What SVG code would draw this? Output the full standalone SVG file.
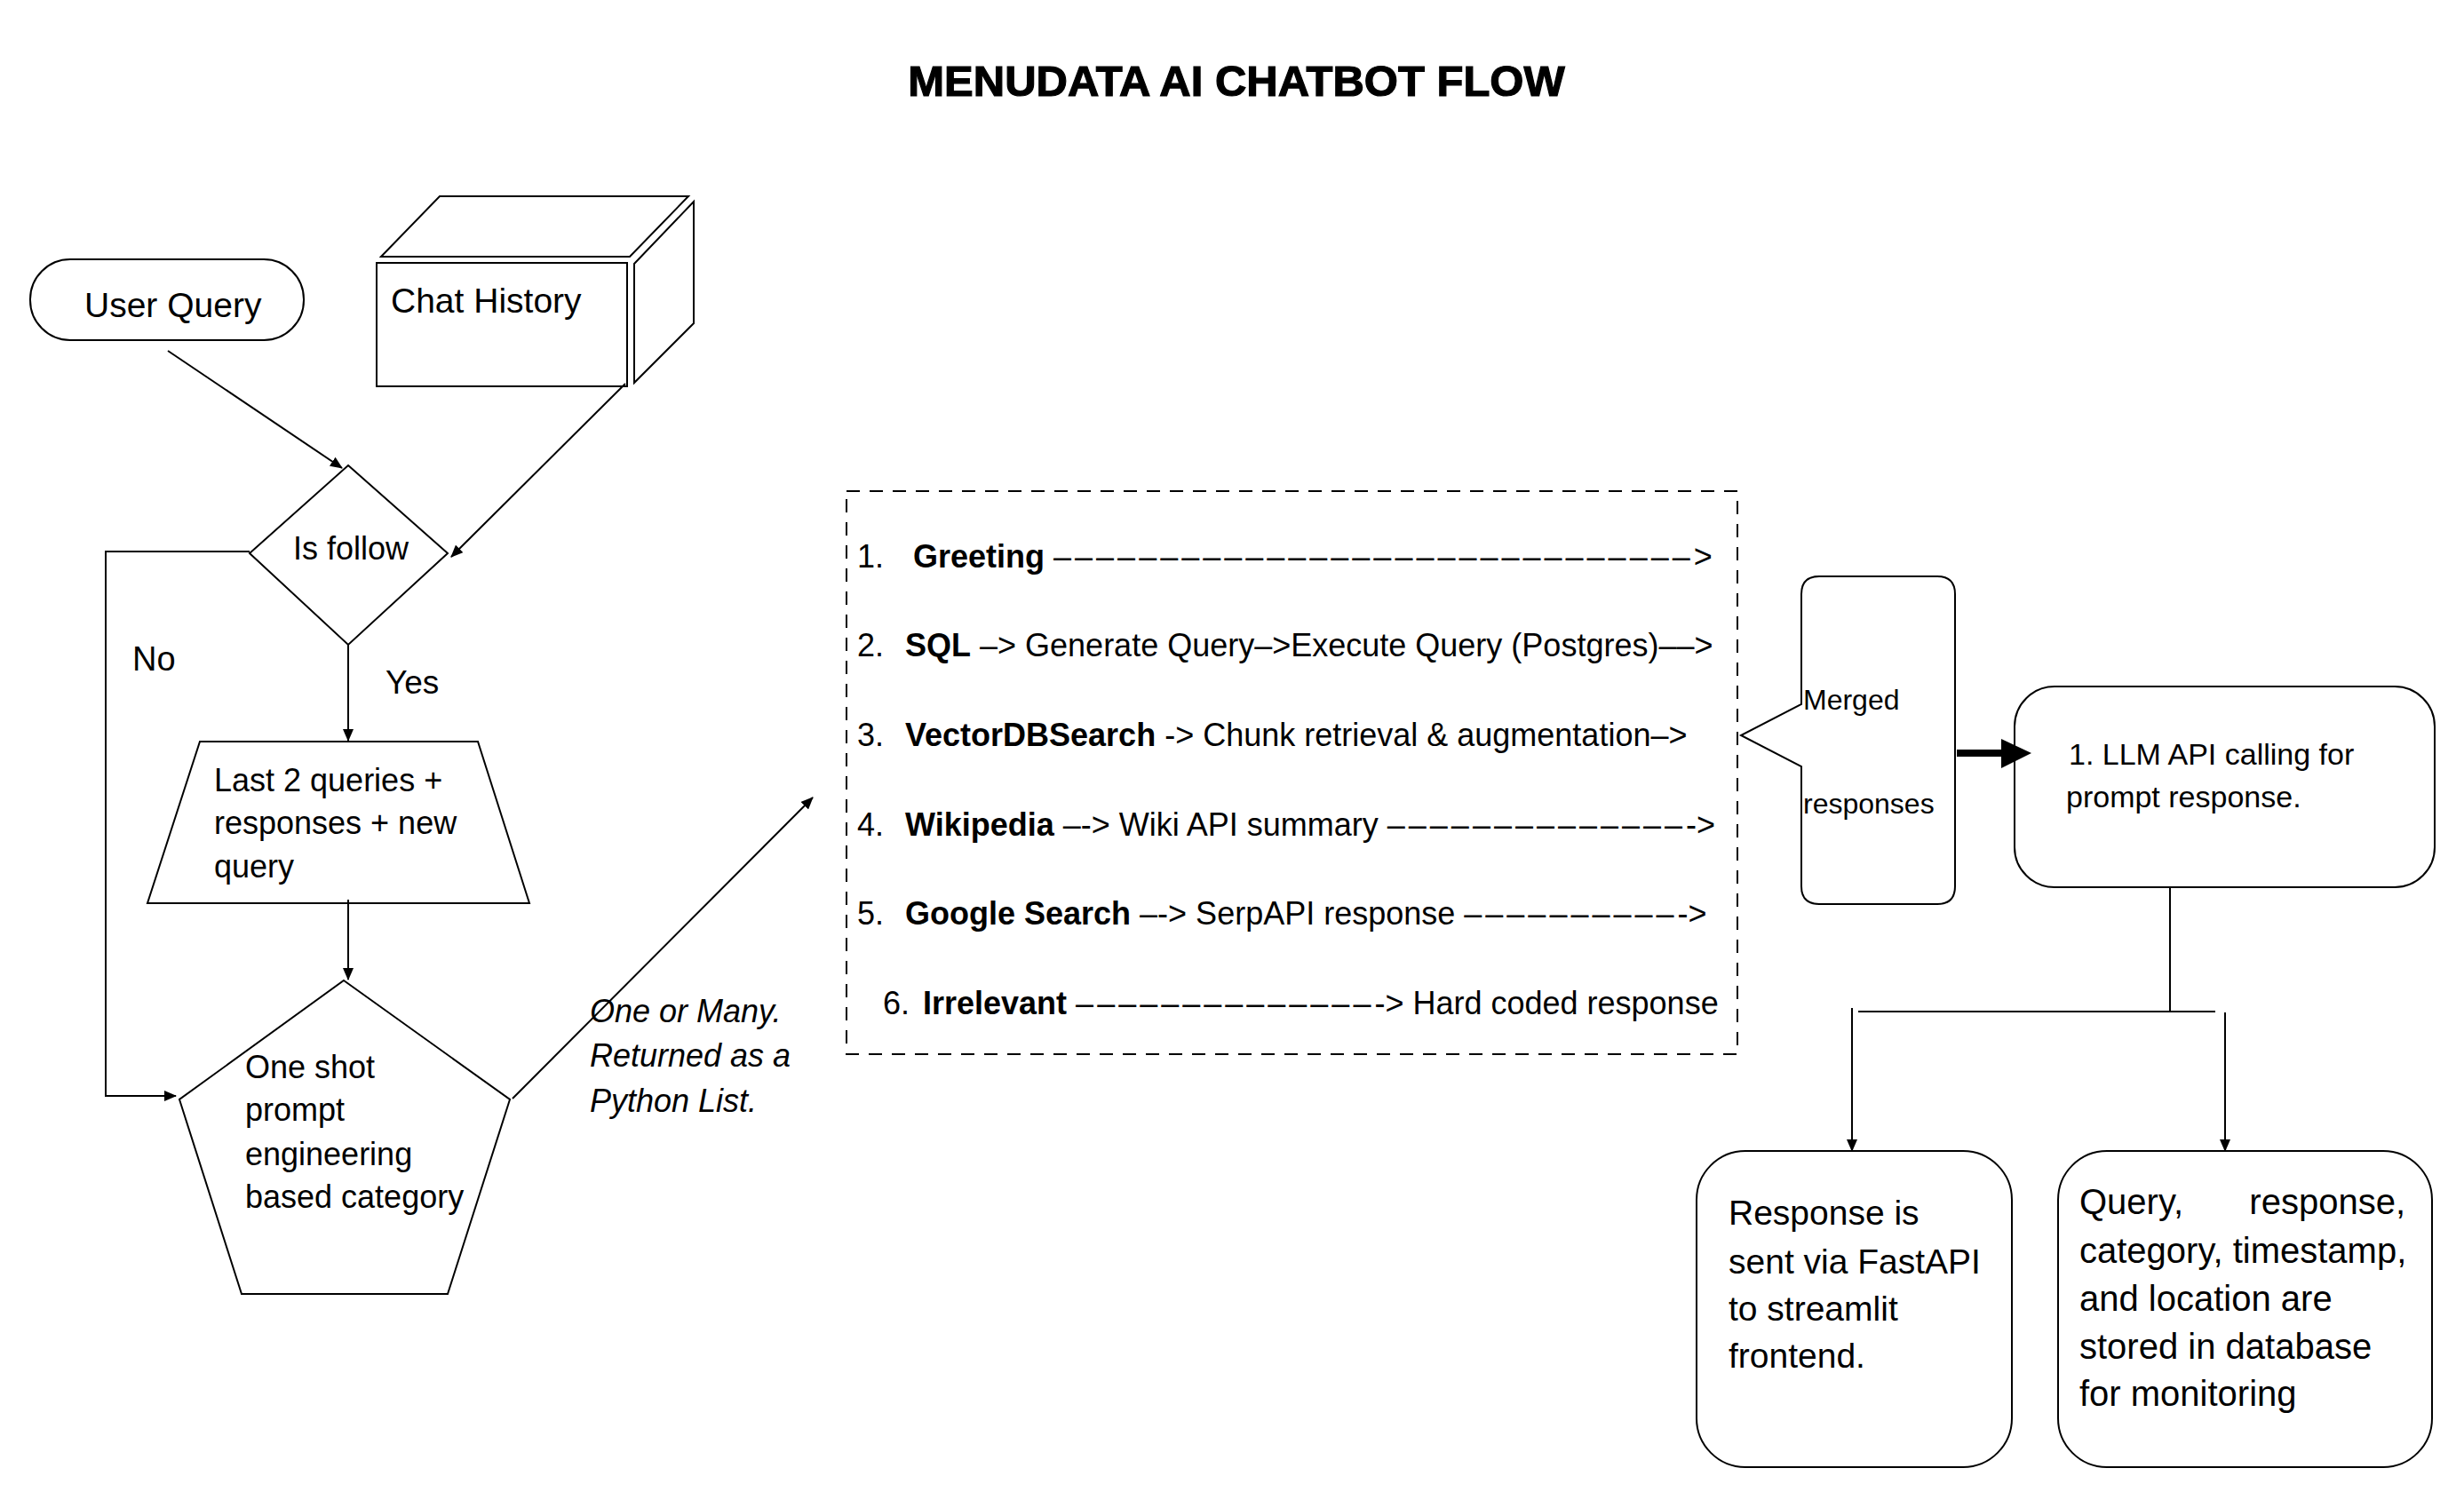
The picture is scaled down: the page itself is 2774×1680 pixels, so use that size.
<svg xmlns="http://www.w3.org/2000/svg" width="2774" height="1680" viewBox="0 0 2774 1680">
<style>
text{font-family:"Liberation Sans",Arial,sans-serif;fill:#000}
.sh{fill:#fff;stroke:#000;stroke-width:2}
.ln{fill:none;stroke:#000;stroke-width:2}
.b{font-weight:700}
.d{letter-spacing:4px}
.t36{font-size:36px}
</style>
<defs>
<marker id="ah" markerUnits="userSpaceOnUse" markerWidth="14" markerHeight="12" refX="13" refY="6" orient="auto">
<path d="M0,0 L14,6 L0,12 z" fill="#000"/>
</marker>
</defs>
<rect width="2774" height="1680" fill="#fff"/>
<text x="1392" y="108" text-anchor="middle" font-size="49" class="b" stroke="#000" stroke-width="1.2">MENUDATA AI CHATBOT FLOW</text>

<g id="user-query">
<rect class="sh" x="34" y="292" width="308" height="91" rx="45" ry="45"/>
<text x="95" y="357" font-size="39">User Query</text>
</g>

<g id="chat-history">
<polygon class="sh" points="429,289 495,221 775,221 709,289"/>
<polygon class="sh" points="714,297 781,227 781,364 714,431"/>
<rect class="sh" x="424" y="296" width="282" height="139"/>
<text x="440" y="352" font-size="39">Chat History</text>
</g>

<g id="is-follow">
<polygon class="sh" points="392,524 504,623 392,726 281,623"/>
<text x="330" y="630" font-size="36">Is follow</text>
</g>

<g id="last-queries">
<polygon class="sh" points="225,835 538,835 596,1017 166,1017"/>
<text x="241" y="891" class="t36">Last 2 queries +</text>
<text x="241" y="939" class="t36">responses + new</text>
<text x="241" y="988" class="t36">query</text>
</g>

<g id="category">
<polygon class="sh" points="387,1104 574,1238 504,1457 272,1457 202,1238"/>
<text x="276" y="1214" class="t36">One shot</text>
<text x="276" y="1262" class="t36">prompt</text>
<text x="276" y="1312" class="t36">engineering</text>
<text x="276" y="1360" class="t36">based category</text>
</g>

<g id="categories-list">
<rect x="953" y="553" width="1003" height="634" fill="none" stroke="#000" stroke-width="2" stroke-dasharray="15 11"/>
<text x="965" y="639" class="t36">1.<tspan x="1028" class="b">Greeting</tspan> <tspan class="d">––––––––––––––––––––––––––––––</tspan>&gt;</text>
<text x="965" y="739" class="t36">2.<tspan x="1019" class="b">SQL</tspan> –&gt; Generate Query–&gt;Execute Query (Postgres)––&gt;</text>
<text x="965" y="840" class="t36">3.<tspan x="1019" class="b">VectorDBSearch</tspan> -&gt; Chunk retrieval &amp; augmentation–&gt;</text>
<text x="965" y="941" class="t36">4.<tspan x="1019" class="b">Wikipedia</tspan> –-&gt; Wiki API summary <tspan class="d">––––––––––––––</tspan>-&gt;</text>
<text x="965" y="1041" class="t36">5.<tspan x="1019" class="b">Google Search</tspan> –-&gt; SerpAPI response <tspan class="d">––––––––––</tspan>-&gt;</text>
<text x="994" y="1142" class="t36">6.<tspan x="1039" class="b">Irrelevant</tspan> <tspan class="d">––––––––––––––</tspan>-&gt; Hard coded response</text>
</g>

<g id="merged-responses">
<path class="sh" d="M2048,649 H2181 Q2201,649 2201,669 V998 Q2201,1018 2181,1018 H2048 Q2028,1018 2028,998 V863 L1960,828 L2028,793 V669 Q2028,649 2048,649 Z"/>
<text x="2030" y="799" font-size="32">Merged</text>
<text x="2030" y="916" font-size="32">responses</text>
</g>

<g id="llm-call">
<rect class="sh" x="2268" y="773" width="473" height="226" rx="45" ry="45"/>
<text x="2329" y="861" font-size="34">1. LLM API calling for</text>
<text x="2326" y="909" font-size="34">prompt response.</text>
</g>

<g id="frontend">
<rect class="sh" x="1910" y="1296" width="355" height="356" rx="55" ry="55"/>
<text x="1946" y="1379" font-size="39">Response is</text>
<text x="1946" y="1434" font-size="39">sent via FastAPI</text>
<text x="1946" y="1487" font-size="39">to streamlit</text>
<text x="1946" y="1540" font-size="39">frontend.</text>
</g>

<g id="database">
<rect class="sh" x="2317" y="1296" width="421" height="356" rx="55" ry="55"/>
<text x="2341" y="1367" font-size="40">Query,</text>
<text x="2708" y="1367" font-size="40" text-anchor="end">response,</text>
<text x="2341" y="1422" font-size="40">category, timestamp,</text>
<text x="2341" y="1476" font-size="40">and location are</text>
<text x="2341" y="1530" font-size="40">stored in database</text>
<text x="2341" y="1583" font-size="40">for monitoring</text>
</g>

<g id="connectors">
<line class="ln" x1="189" y1="395" x2="385" y2="527" marker-end="url(#ah)"/>
<line class="ln" x1="704" y1="432" x2="508" y2="627" marker-end="url(#ah)"/>
<polyline class="ln" points="281,621 119,621 119,1234 198,1234" marker-end="url(#ah)"/>
<line class="ln" x1="392" y1="726" x2="392" y2="834" marker-end="url(#ah)"/>
<line class="ln" x1="392" y1="1013" x2="392" y2="1103" marker-end="url(#ah)"/>
<line class="ln" x1="577" y1="1237" x2="915" y2="898" marker-end="url(#ah)"/>
<line x1="2203" y1="848" x2="2256" y2="848" stroke="#000" stroke-width="8"/>
<polygon points="2253,832 2287,848 2253,865" fill="#000"/>
<line class="ln" x1="2443" y1="999" x2="2443" y2="1139"/>
<line class="ln" x1="2092" y1="1139" x2="2494" y2="1139"/>
<line class="ln" x1="2085" y1="1135" x2="2085" y2="1296" marker-end="url(#ah)"/>
<line class="ln" x1="2505" y1="1140" x2="2505" y2="1296" marker-end="url(#ah)"/>
<text x="149" y="755" font-size="38">No</text>
<text x="434" y="781" font-size="37">Yes</text>
<text x="664" y="1151" font-size="36" font-style="italic">One or Many.</text>
<text x="664" y="1201" font-size="36" font-style="italic">Returned as a</text>
<text x="664" y="1252" font-size="36" font-style="italic">Python List.</text>
</g>
</svg>
